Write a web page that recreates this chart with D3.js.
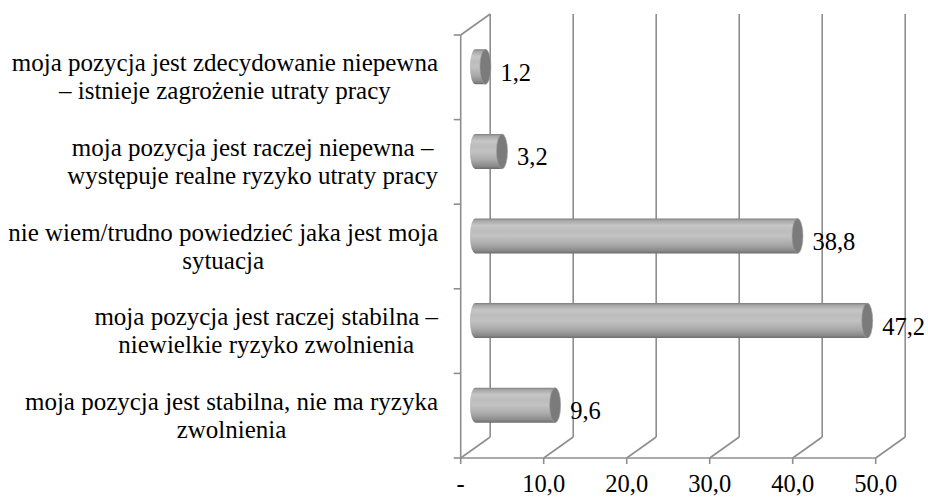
<!DOCTYPE html>
<html>
<head>
<meta charset="utf-8">
<script src="https://cdn.jsdelivr.net/npm/d3@7"></script>
</head>
<body style="margin:0">
<svg id="chart" width="928" height="497"></svg>
<script>
// data, top to bottom as in the picture
var categories = [
  "moja pozycja jest zdecydowanie niepewna|– istnieje zagrożenie utraty pracy",
  "moja pozycja jest raczej niepewna –|występuje realne ryzyko utraty pracy",
  "nie wiem/trudno powiedzieć jaka jest moja|sytuacja",
  "moja pozycja jest raczej stabilna –|niewielkie ryzyko zwolnienia",
  "moja pozycja jest stabilna, nie ma ryzyka|zwolnienia"
];
var values = [1.2, 3.2, 38.8, 47.2, 9.6];
var valueLabels = ["1,2", "3,2", "38,8", "47,2", "9,6"];
var ticks = [0, 10, 20, 30, 40, 50];
var tickLabels = ["-", "10,0", "20,0", "30,0", "40,0", "50,0"];

var svg = d3.select("#chart");
var fam = "'Liberation Serif', 'Tinos', 'FreeSerif'";

// front plane + depth offset (3D look)
var plotL = 460.7, plotR = 875.7, plotT = 35, plotB = 458;
var dx = 29.5, dy = -21;
var xs = d3.scaleLinear().domain([0, 50]).range([plotL, plotR]);
var ys = d3.scaleBand().domain(categories).range([plotT, plotB]);
var gridColor = "#8e8e8e";

var defs = svg.append("defs");
var grad = defs.append("linearGradient")
    .attr("id", "cyl")
    .attr("x1", 0).attr("y1", 0).attr("x2", 0).attr("y2", 1);
[[0, "#7e7e7e"], [0.06, "#a6a6a6"], [0.2, "#c6c6c6"], [0.35, "#bcbcbc"],
 [0.5, "#c2c2c2"], [0.75, "#a9a9a9"], [0.92, "#8a8a8a"], [1, "#6c6c6c"]]
  .forEach(function (s) {
    grad.append("stop").attr("offset", s[0]).attr("stop-color", s[1]);
  });

var grid = svg.append("g").attr("fill", "none").attr("stroke", gridColor).attr("stroke-width", 1.6);

// back wall vertical gridlines
grid.selectAll(".back").data(ticks).enter().append("line")
    .attr("x1", function (d) { return xs(d) + dx; })
    .attr("x2", function (d) { return xs(d) + dx; })
    .attr("y1", plotT + dy)
    .attr("y2", plotB + dy);

// floor diagonals
grid.selectAll(".floor").data(ticks).enter().append("line")
    .attr("x1", function (d) { return xs(d); })
    .attr("y1", plotB)
    .attr("x2", function (d) { return xs(d) + dx; })
    .attr("y2", plotB + dy);

// left wall
grid.append("line").attr("x1", plotL).attr("x2", plotL).attr("y1", plotT).attr("y2", plotB);
grid.append("line").attr("x1", plotL).attr("y1", plotT).attr("x2", plotL + dx).attr("y2", plotT + dy);

// bottom axis line + ticks
grid.append("line").attr("x1", plotL).attr("x2", plotR).attr("y1", plotB).attr("y2", plotB);
grid.selectAll(".xt").data(ticks).enter().append("line")
    .attr("x1", function (d) { return xs(d); })
    .attr("x2", function (d) { return xs(d); })
    .attr("y1", plotB).attr("y2", plotB + 6);

// category ticks on the left
var bounds = categories.map(function (c) { return ys(c); }).concat([plotB]);
grid.selectAll(".yt").data(bounds).enter().append("line")
    .attr("x1", plotL - 7).attr("x2", plotL)
    .attr("y1", function (d) { return d; })
    .attr("y2", function (d) { return d; });

// tick labels
svg.append("g").selectAll("text").data(ticks).enter().append("text")
    .attr("x", function (d) { return xs(d); })
    .attr("y", 492)
    .attr("text-anchor", "middle")
    .style("font-family", fam)
    .style("font-size", "24.5px")
    .text(function (d, i) { return tickLabels[i]; });

// cylinders at mid depth
var rx = 5.5, barH = 35;
var bars = svg.append("g");
categories.forEach(function (c, i) {
  var cy = ys(c) + ys.bandwidth() / 2 + dy / 2;
  var x0 = xs(0) + dx / 2, x1 = xs(values[i]) + dx / 2;
  var t = cy - barH / 2, b = cy + barH / 2;
  bars.append("path")
      .attr("d", "M" + x0 + "," + t + " L" + x1 + "," + t + " L" + x1 + "," + b +
                 " L" + x0 + "," + b + " A" + rx + "," + (barH / 2) + " 0 0 1 " + x0 + "," + t + " Z")
      .attr("fill", "url(#cyl)");
  bars.append("ellipse")
      .attr("cx", x1).attr("cy", cy)
      .attr("rx", rx).attr("ry", barH / 2)
      .attr("fill", "#7b7b7b")
      .attr("stroke", "#a0a0a0").attr("stroke-width", 0.6);
  svg.append("text")
      .attr("x", x1 + 15)
      .attr("y", cy + 14)
      .style("font-family", fam)
      .style("font-size", "24.5px")
      .text(valueLabels[i]);
});

// category labels: block right-aligned to 438, lines centred in block
var labelRight = 438, lineGap = 28;
categories.forEach(function (c) {
  var lines = c.split("|");
  var cy = ys(c) + ys.bandwidth() / 2;
  var g = svg.append("g");
  var texts = lines.map(function (l, j) {
    return g.append("text")
        .attr("y", cy + (j - (lines.length - 1) / 2) * lineGap + 8)
        .attr("text-anchor", "middle")
        .style("font-family", fam)
        .style("font-size", "25px")
        .text(l);
  });
  var w = d3.max(texts, function (t) { return t.node().getComputedTextLength(); });
  texts.forEach(function (t) { t.attr("x", labelRight - w / 2); });
});
</script>
</body>
</html>
